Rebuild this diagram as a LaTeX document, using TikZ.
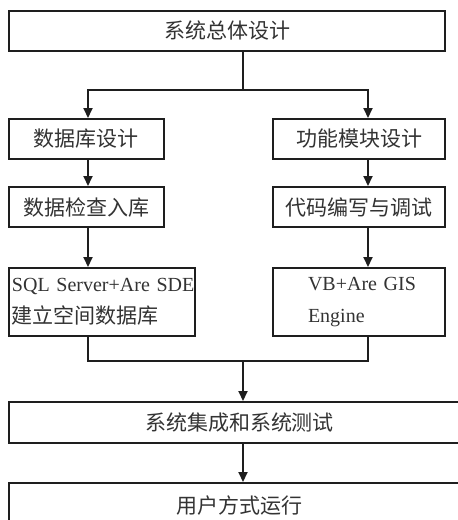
\documentclass[tikz,border=0pt]{standalone}
\usepackage{fontspec}
\setmainfont{Liberation Serif}
\newfontfamily\cjk{Noto Sans CJK SC}
\usetikzlibrary{arrows.meta}
\definecolor{ink}{HTML}{1E1E1E}
\definecolor{txt}{HTML}{333333}
\tikzset{
  box/.style={draw=ink, line width=2pt, inner sep=0pt, text=txt, font=\cjk\fontsize{21}{24}\selectfont, anchor=center},
  conn/.style={draw=ink, line width=2pt},
  arr/.style={conn, -{Triangle[length=10pt,width=9pt]}}
}
\begin{document}
\begin{tikzpicture}[x=1pt,y=-1pt]
\useasboundingbox (0,0) rectangle (458,520);
\clip (0,0) rectangle (458,520);
\fill[white] (0,0) rectangle (458,520);
\coordinate (xl) at (88,0);
\coordinate (xr) at (368,0);
\coordinate (xc) at (243,0);
\coordinate (j1) at (243,90);
\coordinate (j2) at (243,361);

\node[box, minimum width=436pt, minimum height=40pt] (top) at (227,31) {系统总体设计};
\node[box, minimum width=155pt, minimum height=40pt] (L1) at (86.5,139) {数据库设计};
\node[box, minimum width=172pt, minimum height=40pt] (R1) at (359,139) {功能模块设计};
\node[box, minimum width=155pt, minimum height=40pt] (L2) at (86.5,207) {数据检查入库};
\node[box, minimum width=172pt, minimum height=40pt] (R2) at (359,207) {代码编写与调试};
\node[box, minimum width=186pt, minimum height=68pt, text width=186pt, align=left,
      font=\fontsize{20}{32}\selectfont] (L3) at (102,302)
  {\hspace*{3pt}SQL Server+Are SDE\\\hspace*{3pt}{\cjk\fontsize{21}{32}\selectfont 建立空间数据库}};
\node[box, minimum width=172pt, minimum height=68pt, text width=172pt, align=left,
      font=\fontsize{20}{32}\selectfont] (R3) at (359,302)
  {\hspace*{35pt}VB+Are GIS\\\hspace*{35pt}Engine};
\node[box, minimum width=461pt, minimum height=41pt] (S) at (239.5,422.5) {系统集成和系统测试};
\node[box, minimum width=461pt, minimum height=46pt] (U) at (239.5,506) {用户方式运行};

\draw[conn] (xc |- top.south) -- (j1);
\draw[arr] (j1) -| (xl |- L1.north);
\draw[arr] (j1) -| (xr |- R1.north);
\draw[arr] (xl |- L1.south) -- (xl |- L2.north);
\draw[arr] (xr |- R1.south) -- (xr |- R2.north);
\draw[arr] (xl |- L2.south) -- (xl |- L3.north);
\draw[arr] (xr |- R2.south) -- (xr |- R3.north);
\draw[conn] (xl |- L3.south) |- (j2);
\draw[conn] (xr |- R3.south) |- (j2);
\draw[arr] (j2) -- (xc |- S.north);
\draw[arr] (xc |- S.south) -- (xc |- U.north);
\end{tikzpicture}
\end{document}
